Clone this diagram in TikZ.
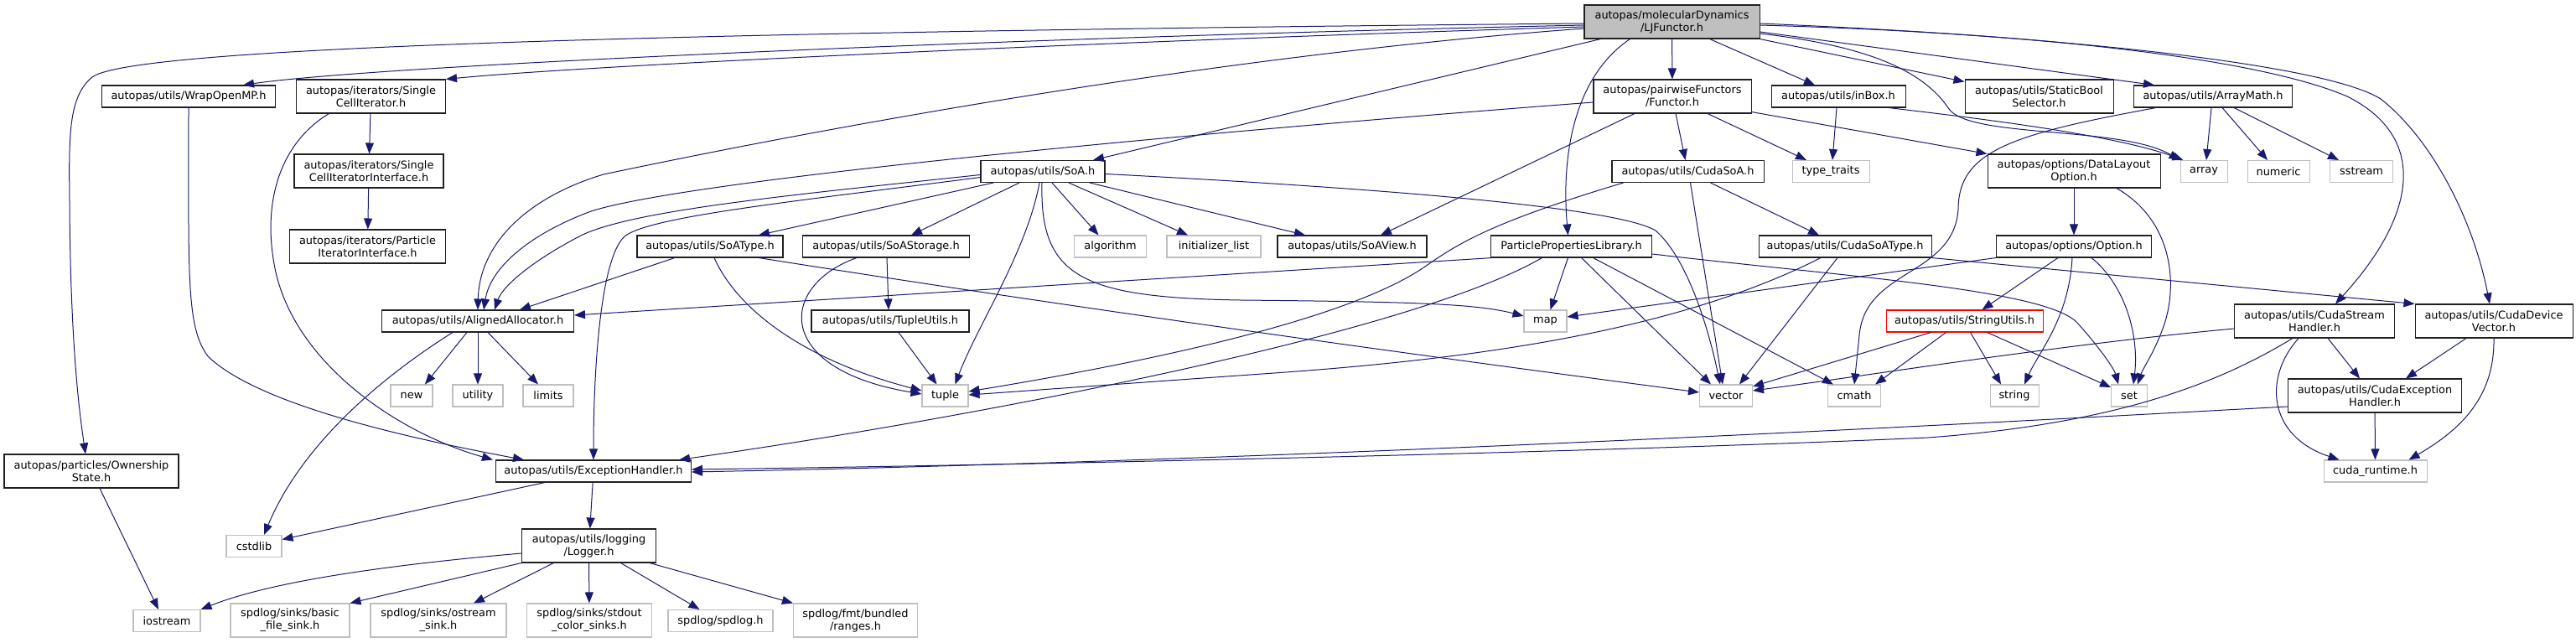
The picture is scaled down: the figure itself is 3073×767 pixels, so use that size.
\documentclass[tikz,border=0pt]{standalone}
\usepackage{fontspec}
\setmainfont{DejaVu Sans}
\usetikzlibrary{arrows.meta}
\definecolor{midnight}{HTML}{191970}
\definecolor{grey75}{HTML}{BFBFBF}
\definecolor{trunc}{HTML}{FF0000}
\definecolor{rim}{HTML}{202020}
\begin{document}
\begin{tikzpicture}[x=1pt,y=-1pt,
    hdr/.style={draw=rim,line width=1.05pt,inner sep=0pt,minimum height=26pt,align=center,font=\fontsize{12.9}{15}\selectfont},
    sys/.style={hdr,draw=grey75},
    twoline/.style={minimum height=40pt},
    arr/.style={-{Triangle[length=13pt,width=10pt]},line width=1pt,draw=midnight}]
    \useasboundingbox (0,0) rectangle (3073,767);
    \node[hdr,twoline,fill=grey75,minimum width=209pt] (lj) at (1994.5,26) {autopas/molecularDynamics\\/LJFunctor.h};
    \node[hdr,minimum width=207pt] (omp) at (225,115) {autopas/utils/WrapOpenMP.h};
    \node[hdr,twoline,minimum width=178pt] (sci) at (442.5,115) {autopas/iterators/Single\\CellIterator.h};
    \node[hdr,twoline,minimum width=178pt] (scii) at (440,204) {autopas/iterators/Single\\CellIteratorInterface.h};
    \node[hdr,twoline,minimum width=186pt] (pii) at (438.5,294) {autopas/iterators/Particle\\IteratorInterface.h};
    \node[hdr,minimum width=229pt] (alloc) at (570,383) {autopas/utils/AlignedAllocator.h};
    \node[hdr,minimum width=148pt] (soa) at (1244,204.5) {autopas/utils/SoA.h};
    \node[hdr,minimum width=174pt] (soatype) at (847,294) {autopas/utils/SoAType.h};
    \node[hdr,minimum width=199pt] (soastor) at (1057,294) {autopas/utils/SoAStorage.h};
    \node[sys,minimum width=86pt] (algo) at (1324.5,294) {algorithm};
    \node[sys,minimum width=112pt] (initl) at (1448,294) {initializer\_list};
    \node[hdr,minimum width=178pt] (soaview) at (1613,294) {autopas/utils/SoAView.h};
    \node[hdr,minimum width=188pt] (tupleu) at (1062,383) {autopas/utils/TupleUtils.h};
    \node[hdr,twoline,minimum width=188pt] (func) at (1995,115) {autopas/pairwiseFunctors\\/Functor.h};
    \node[hdr,minimum width=160pt] (inbox) at (2193,115) {autopas/utils/inBox.h};
    \node[hdr,minimum width=181pt] (cudasoa) at (2013.5,204.5) {autopas/utils/CudaSoA.h};
    \node[sys,minimum width=92pt] (ttraits) at (2184,204.5) {type\_traits};
    \node[hdr,minimum width=192pt] (ppl) at (1874.5,294) {ParticlePropertiesLibrary.h};
    \node[hdr,minimum width=206pt] (cudasoatype) at (2201,294) {autopas/utils/CudaSoAType.h};
    \node[sys,minimum width=51pt] (map) at (1843.5,383) {map};
    \node[hdr,draw=trunc,minimum width=187pt] (strutil) at (2343.5,383) {autopas/utils/StringUtils.h};
    \node[hdr,twoline,minimum width=177pt] (sbs) at (2432.5,115) {autopas/utils/StaticBool\\Selector.h};
    \node[hdr,minimum width=189pt] (amath) at (2640,115) {autopas/utils/ArrayMath.h};
    \node[hdr,twoline,minimum width=206pt] (dlo) at (2474,204) {autopas/options/DataLayout\\Option.h};
    \node[sys,minimum width=56pt] (array) at (2629,204.5) {array};
    \node[sys,minimum width=74pt] (numeric) at (2718,204.5) {numeric};
    \node[sys,minimum width=75pt] (sstream) at (2817,204.5) {sstream};
    \node[hdr,minimum width=185pt] (option) at (2474,294) {autopas/options/Option.h};
    \node[hdr,twoline,minimum width=191pt] (csh) at (2761,383) {autopas/utils/CudaStream\\Handler.h};
    \node[hdr,twoline,minimum width=188pt] (cdv) at (2975,383) {autopas/utils/CudaDevice\\Vector.h};
    \node[sys,minimum width=50pt] (new) at (491,472) {new};
    \node[sys,minimum width=60pt] (utility) at (570,472) {utility};
    \node[sys,minimum width=60pt] (limits) at (654,472) {limits};
    \node[hdr,minimum width=233pt] (exc) at (708,562) {autopas/utils/ExceptionHandler.h};
    \node[sys,minimum width=66pt] (cstdlib) at (303,651.5) {cstdlib};
    \node[hdr,twoline,minimum width=160pt] (logger) at (702.5,651) {autopas/utils/logging\\/Logger.h};
    \node[hdr,twoline,minimum width=208pt] (own) at (109,562) {autopas/particles/Ownership\\State.h};
    \node[sys,minimum width=80pt] (iostream) at (199,740.5) {iostream};
    \node[sys,twoline,minimum width=142pt] (basicsink) at (346,740) {spdlog/sinks/basic\\\_file\_sink.h};
    \node[sys,twoline,minimum width=162pt] (ostreamsink) at (523,740) {spdlog/sinks/ostream\\\_sink.h};
    \node[sys,twoline,minimum width=149pt] (stdoutsink) at (703,740) {spdlog/sinks/stdout\\\_color\_sinks.h};
    \node[sys,minimum width=125pt] (spdlog) at (859.5,740.5) {spdlog/spdlog.h};
    \node[sys,twoline,minimum width=148pt] (ranges) at (1020.5,740) {spdlog/fmt/bundled\\/ranges.h};
    \node[sys,minimum width=55pt] (tuple) at (1127.5,472) {tuple};
    \node[sys,minimum width=63pt] (vector) at (2059,472) {vector};
    \node[sys,minimum width=63pt] (cmath) at (2212,472) {cmath};
    \node[sys,minimum width=58pt] (string) at (2403,472) {string};
    \node[sys,minimum width=43pt] (set) at (2540,472) {set};
    \node[hdr,twoline,minimum width=207pt] (cexc) at (2833,472) {autopas/utils/CudaException\\Handler.h};
    \node[sys,minimum width=123pt] (cuda) at (2833.5,562) {cuda\_runtime.h};
    \draw[arr] ([yshift=-2pt]lj.west) .. controls (600,40) and (150,62) .. (110,92) .. controls (82,115) and (82,160) .. (83,240) .. controls (84,420) and (96,500) .. ([xshift=-7pt]own.north);
    \draw[arr] ([yshift=-4pt]lj.west) .. controls (1200,45) and (450,78) .. ([xshift=65pt]omp.north);
    \draw[arr] ([yshift=-6pt]lj.west) .. controls (1300,50) and (700,78) .. (sci.north east);
    \draw[arr] ([yshift=-8pt]lj.west) .. controls (1400,70) and (900,170) .. (720,208) .. controls (630,235) and (572,290) .. (alloc.north);
    \draw[arr] ([xshift=-85pt]lj.south) -- ([xshift=60pt]soa.north);
    \draw[arr] ([xshift=-50pt]lj.south) .. controls (1880,90) and (1862,180) .. ([xshift=-4pt]ppl.north);
    \draw[arr] (lj) -- (func); \draw[arr] ([xshift=45pt]lj.south) -- ([xshift=-28pt]inbox.north);
    \draw[arr] (lj.south east) -- ([yshift=-3pt]sbs.north west); \draw[arr] ([yshift=-12pt]lj.east) -- ([xshift=-70pt]amath.north);
    \draw[arr] ([yshift=-14pt]lj.east) .. controls (2230,55) and (2295,85) .. (2325,130) .. controls (2350,165) and (2530,150) .. (array.north west);
    \draw[arr] ([yshift=-4pt]lj.east) .. controls (2450,40) and (2700,72) .. (2800,115) .. controls (2900,165) and (2880,260) .. ([xshift=25pt]csh.north);
    \draw[arr] ([yshift=-2pt]lj.east) .. controls (2500,45) and (2780,80) .. (2840,118) .. controls (2900,165) and (2950,260) .. ([xshift=-5pt]cdv.north);
    \draw[arr] ([yshift=-7pt]func.west) .. controls (1400,160) and (820,215) .. (705,252) .. controls (630,280) and (585,320) .. ([xshift=7pt]alloc.north);
    \draw[arr] ([xshift=-45pt]func.south) -- ([xshift=34pt]soaview.north); \draw[arr] ([xshift=4pt]func.south) -- ([xshift=-3pt]cudasoa.north);
    \draw[arr] ([xshift=42pt]func.south) -- ([xshift=-29pt]ttraits.north); \draw[arr] ([yshift=2pt]func.south east) -- (dlo.north west);
    \draw[arr] ([xshift=-2pt]inbox.south) -- ([xshift=2pt]ttraits.north);
    \draw[arr] ([xshift=60pt]inbox.south) .. controls (2350,140) and (2520,160) .. ([xshift=4pt]array.north west);
    \draw[arr] ([xshift=-2pt]amath.south) -- ([xshift=3pt]array.north); \draw[arr] ([xshift=11pt]amath.south) -- ([xshift=-13pt]numeric.north);
    \draw[arr] ([xshift=25pt]amath.south) -- ([xshift=-27pt]sstream.north);
    \draw[arr] ([xshift=-68pt]amath.south) .. controls (2400,160) and (2336,180) .. (2336,250) .. controls (2330,330) and (2225,320) .. (2218,400) -- (cmath.north);
    \draw[arr] ([xshift=-77pt]cudasoa.south) .. controls (1780,265) and (1740,290) .. (1700,318) .. controls (1610,380) and (1380,430) .. ([yshift=5pt]tuple.east);
    \draw[arr] ([xshift=3pt]cudasoa.south) -- ([xshift=-4pt]vector.north); \draw[arr] ([xshift=27pt]cudasoa.south) -- ([xshift=-31pt]cudasoatype.north);
    \draw[arr] ([xshift=-59pt]soa.south) -- ([xshift=58pt]soatype.north); \draw[arr] ([xshift=-28pt]soa.south) -- ([xshift=30pt]soastor.north);
    \draw[arr] ([xshift=11pt]soa.south) -- ([xshift=-14pt]algo.north); \draw[arr] ([xshift=31pt]soa.south) -- ([xshift=-31pt]initl.north);
    \draw[arr] ([xshift=56pt]soa.south) -- ([xshift=-56pt]soaview.north);
    \draw[arr] ([xshift=-4pt]soa.south) .. controls (1225,300) and (1165,390) .. ([xshift=12pt]tuple.north);
    \draw[arr] ([xshift=-1pt]soa.south) .. controls (1240,330) and (1290,355) .. (1480,358) .. controls (1680,360) and (1760,362) .. ([yshift=6pt]map.west);
    \draw[arr] ([yshift=-3pt]soa.east) .. controls (1600,222) and (1925,245) .. (1975,275) .. controls (2015,310) and (2040,400) .. ([xshift=-7pt]vector.north);
    \draw[arr] ([yshift=-4pt]soa.west) .. controls (950,232) and (760,250) .. (695,280) .. controls (640,308) and (600,340) .. ([xshift=20pt]alloc.north);
    \draw[arr] ([yshift=-7pt]soa.west) .. controls (950,240) and (775,258) .. (745,282) .. controls (715,310) and (708,450) .. (exc.north);
    \draw[arr] ([xshift=-42pt]soatype.south) -- ([xshift=50pt]alloc.north);
    \draw[arr] ([xshift=5pt]soatype.south) .. controls (880,370) and (960,430) .. ([yshift=6pt]tuple.west);
    \draw[arr] ([xshift=58pt]soatype.south) .. controls (1300,370) and (1700,425) .. ([yshift=4pt]vector.west);
    \draw[arr] ([xshift=1pt]soastor.south) -- ([xshift=-2pt]tupleu.north);
    \draw[arr] ([xshift=-35pt]soastor.south) .. controls (930,340) and (920,440) .. ([yshift=2pt]tuple.west);
    \draw[arr] ([xshift=10pt]tupleu.south) -- ([xshift=-10pt]tuple.north);
    \draw[arr] ([xshift=-94pt]ppl.south) -- ([yshift=7pt]alloc.east);
    \draw[arr] ([xshift=-35pt]ppl.south) .. controls (1680,400) and (1150,500) .. ([xshift=-15pt]exc.north east);
    \draw[arr] ([xshift=-4pt]ppl.south) -- ([xshift=6pt]map.north); \draw[arr] ([xshift=12pt]ppl.south) -- ([xshift=-18pt]vector.north);
    \draw[arr] ([xshift=26pt]ppl.south) -- ([xshift=-25pt]cmath.north);
    \draw[arr] ([yshift=-9pt]ppl.east) .. controls (2200,330) and (2440,345) .. (2478,385) .. controls (2505,415) and (2522,440) .. ([xshift=-13pt]set.north);
    \draw[arr] ([xshift=-29pt]cudasoatype.south) .. controls (2000,395) and (1760,428) .. (1520,445) .. controls (1350,457) and (1200,468) .. ([yshift=1pt]tuple.east);
    \draw[arr] ([xshift=-9pt]cudasoatype.south) -- ([xshift=16pt]vector.north); \draw[arr] (cudasoatype.south east) -- (cdv.north west);
    \draw[arr] (option.south west) -- ([yshift=5pt]map.east); \draw[arr] ([xshift=-19pt]option.south) -- ([xshift=21pt]strutil.north);
    \draw[arr] ([xshift=-2pt]option.south) .. controls (2468,380) and (2432,420) .. ([xshift=12pt]string.north);
    \draw[arr] ([xshift=21pt]option.south) .. controls (2535,340) and (2552,400) .. ([xshift=5pt]set.north);
    \draw[arr] (dlo) -- (option);
    \draw[arr] ([xshift=51pt]dlo.south) .. controls (2595,265) and (2598,345) .. (2580,392) .. controls (2570,420) and (2556,440) .. ([xshift=10pt]set.north);
    \draw[arr] ([xshift=-40pt]strutil.south) -- ([yshift=11pt]vector.east); \draw[arr] ([xshift=-22pt]strutil.south) -- ([xshift=25pt]cmath.north);
    \draw[arr] ([xshift=7pt]strutil.south) -- ([xshift=-16pt]string.north); \draw[arr] ([xshift=27pt]strutil.south) -- ([yshift=10pt]set.west);
    \draw[arr] ([yshift=-9pt]csh.west) .. controls (2450,412) and (2250,445) .. ([yshift=6pt]vector.east);
    \draw[arr] ([xshift=16pt]csh.south) -- ([xshift=-18pt]cexc.north);
    \draw[arr] ([xshift=-19pt]csh.south) .. controls (2700,450) and (2705,520) .. ([xshift=-43pt]cuda.north);
    \draw[arr] ([xshift=-26pt]csh.south) .. controls (2650,455) and (2530,505) .. (2300,522) .. controls (1900,540) and (1200,555) .. ([yshift=2pt]exc.east);
    \draw[arr] ([yshift=-13pt]cexc.west) .. controls (2450,500) and (1600,548) .. ([yshift=-1pt]exc.east);
    \draw[arr] (cexc) -- (cuda); \draw[arr] ([xshift=-33pt]cdv.south) -- ([xshift=37pt]cexc.north);
    \draw[arr] (cdv.south) .. controls (2976,470) and (2940,510) .. ([xshift=40pt]cuda.north);
    \draw[arr] (omp.south) .. controls (225,330) and (222,390) .. (248,425) .. controls (310,485) and (500,525) .. ([xshift=-83pt]exc.north);
    \draw[arr] (sci) -- (scii); \draw[arr] (scii) -- (pii);
    \draw[arr] ([xshift=-50pt]sci.south) .. controls (335,170) and (312,240) .. (328,320) .. controls (350,430) and (470,515) .. ([xshift=-120pt]exc.north);
    \draw[arr] ([xshift=-58pt]exc.south) -- ([yshift=8pt]cstdlib.east); \draw[arr] (exc) -- (logger);
    \draw[arr] ([xshift=-13pt]alloc.south) -- ([xshift=16pt]new.north); \draw[arr] (alloc) -- (utility);
    \draw[arr] ([xshift=12pt]alloc.south) -- ([xshift=-12pt]limits.north);
    \draw[arr] ([xshift=-30pt]alloc.south) .. controls (455,450) and (360,530) .. ([xshift=12pt]cstdlib.north);
    \draw[arr] ([yshift=-9pt]logger.west) .. controls (450,675) and (320,695) .. (iostream.north east);
    \draw[arr] (logger.south west) -- (basicsink.north east); \draw[arr] ([xshift=-42pt]logger.south) -- ([xshift=42pt]ostreamsink.north);
    \draw[arr] (logger) -- (stdoutsink); \draw[arr] ([xshift=38pt]logger.south) -- ([xshift=-25pt]spdlog.north);
    \draw[arr] ([xshift=-8pt]logger.south east) -- (ranges.north west);
    \draw[arr] ([xshift=10pt]own.south) -- ([xshift=-10pt]iostream.north);
\end{tikzpicture}
\end{document}
